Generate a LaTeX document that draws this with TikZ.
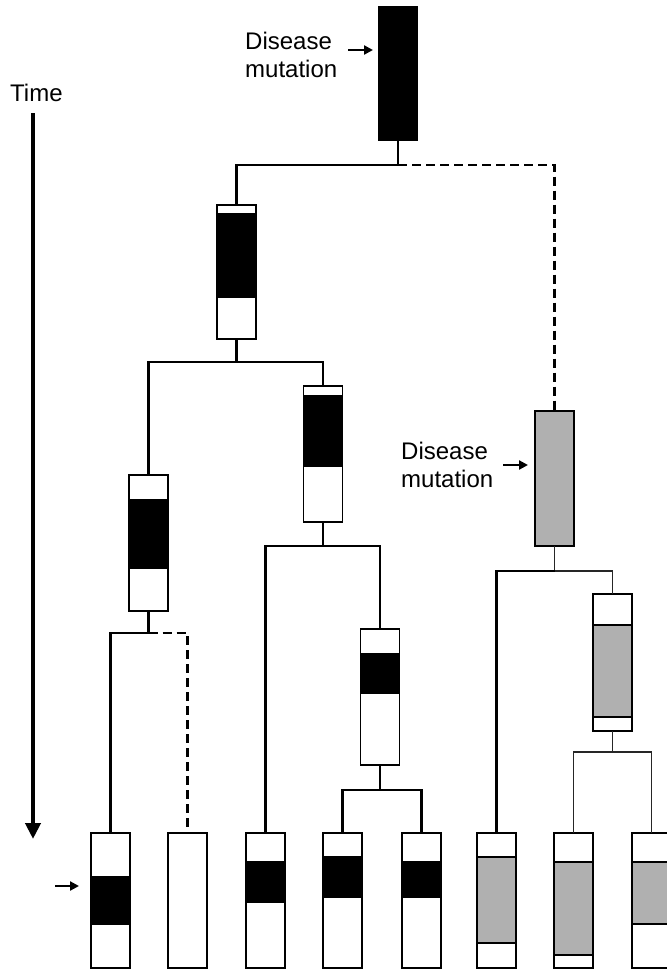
\documentclass[tikz,border=0pt]{standalone}
\usepackage{fontspec}
\setmainfont{Liberation Sans}
\usetikzlibrary{arrows.meta}
\definecolor{mgray}{RGB}{176,176,176}
\begin{document}
\begin{tikzpicture}[x=1pt,y=-1pt,
  box/.style={rectangle, draw=black, line width=1.5pt, fill=white,
    minimum width=39pt, inner sep=0pt, outer sep=0pt},
  band/.style n args={3}{path picture={
    \filldraw[fill=#3, draw=black, line width=1.5pt]
      ([yshift=-#1]path picture bounding box.north west) rectangle
      ([yshift=-#2]path picture bounding box.north east);}},
  link/.style={draw=black, line width=2.9pt},
  thinlink/.style={draw=black!85, line width=1.8pt},
  dlink/.style={draw=black, line width=2.9pt, dash pattern=on 9pt off 5pt},
  lbl/.style={font=\fontsize{24}{28}\selectfont, inner sep=0pt, anchor=north west, align=left},
  pointer/.style={draw=black, line width=2.6pt, -{Triangle[length=9pt,width=9pt]}},
  timearrow/.style={draw=black, line width=4.5pt, -{Triangle[length=16pt,width=15pt]}}
]
\useasboundingbox (0,0) rectangle (667,970);
\clip (0,0) rectangle (667,970);

% labels and arrows
\node[lbl] (time) at (10,84) {Time};
\coordinate (t0) at (33,113);
\coordinate (t1) at (33,839);
\draw[timearrow] (t0) -- (t1);

\node[lbl] (dm1) at (245,32) {Disease\\mutation};
\node[lbl] (dm2) at (401,442) {Disease\\mutation};
\coordinate (p1a) at (348,50); \coordinate (p1b) at (373,50);
\coordinate (p2a) at (503,465); \coordinate (p2b) at (528,465);
\coordinate (p3a) at (55,886); \coordinate (p3b) at (79,886);
\draw[pointer] (p1a) -- (p1b);
\draw[pointer] (p2a) -- (p2b);
\draw[pointer] (p3a) -- (p3b);

% internal boxes
\node[box, fill=black, minimum width=38pt, minimum height=133pt] (T) at (398,73.5) {};
\node[box, minimum height=134pt, band={9pt}{92pt}{black}] (A) at (236.5,272) {};
\node[box, minimum height=136pt, band={25pt}{93pt}{black}] (B) at (148.5,543) {};
\node[box, minimum height=136pt, band={10pt}{80pt}{black}] (C) at (323,454) {};
\node[box, minimum height=136pt, band={25pt}{64pt}{black}] (D) at (380,697) {};
\node[box, fill=mgray, minimum height=135pt] (G1) at (554.5,478.5) {};
\node[box, minimum height=137pt, band={31pt}{123pt}{mgray}] (G2) at (612.5,662.5) {};

% leaves
\node[box, minimum height=135pt, band={44pt}{91pt}{black}] (L1) at (110.5,900.5) {};
\node[box, minimum height=135pt] (L2) at (187.5,900.5) {};
\node[box, minimum height=135pt, band={29pt}{69pt}{black}] (L3) at (265.5,900.5) {};
\node[box, minimum height=135pt, band={24pt}{64pt}{black}] (L4) at (342.5,900.5) {};
\node[box, minimum height=135pt, band={29pt}{64pt}{black}] (L5) at (421.5,900.5) {};
\node[box, minimum height=135pt, band={24pt}{110pt}{mgray}] (L6) at (496.5,900.5) {};
\node[box, minimum height=135pt, band={29pt}{122pt}{mgray}] (L7) at (573.5,900.5) {};
\node[box, minimum height=135pt, band={29pt}{91pt}{mgray}] (L8) at (651.5,900.5) {};

% junctions
\coordinate (j0) at (398,165);
\coordinate (j1) at (236.5,362);
\coordinate (j2) at (148.5,633);
\coordinate (j3) at (323,546);
\coordinate (j4) at (380,790);
\coordinate (j5) at (554.5,571);
\coordinate (j6) at (612.5,752);

% connectors
\draw[link] (T.south) -- (j0);
\draw[link] (j0) -| (A.north);
\draw[dlink] (j0) -| (G1.north);

\draw[link] (A.south) -- (j1);
\draw[link] (j1) -| (B.north);
\draw[link] (j1) -| (C.north);

\draw[link] (B.south) -- (j2);
\draw[link] (j2) -| (L1.north);
\draw[dlink] (j2) -| (L2.north);

\draw[link] (C.south) -- (j3);
\draw[link] (j3) -| (L3.north);
\draw[link] (j3) -| (D.north);

\draw[link] (D.south) -- (j4);
\draw[link] (j4) -| (L4.north);
\draw[link] (j4) -| (L5.north);

\draw[thinlink] (G1.south) -- (j5);
\draw[link] (j5) -| (L6.north);
\draw[thinlink] (j5) -| (G2.north);

\draw[thinlink] (G2.south) -- (j6);
\draw[thinlink] (j6) -| (L7.north);
\draw[thinlink] (j6) -| (L8.north);
\end{tikzpicture}
\end{document}
